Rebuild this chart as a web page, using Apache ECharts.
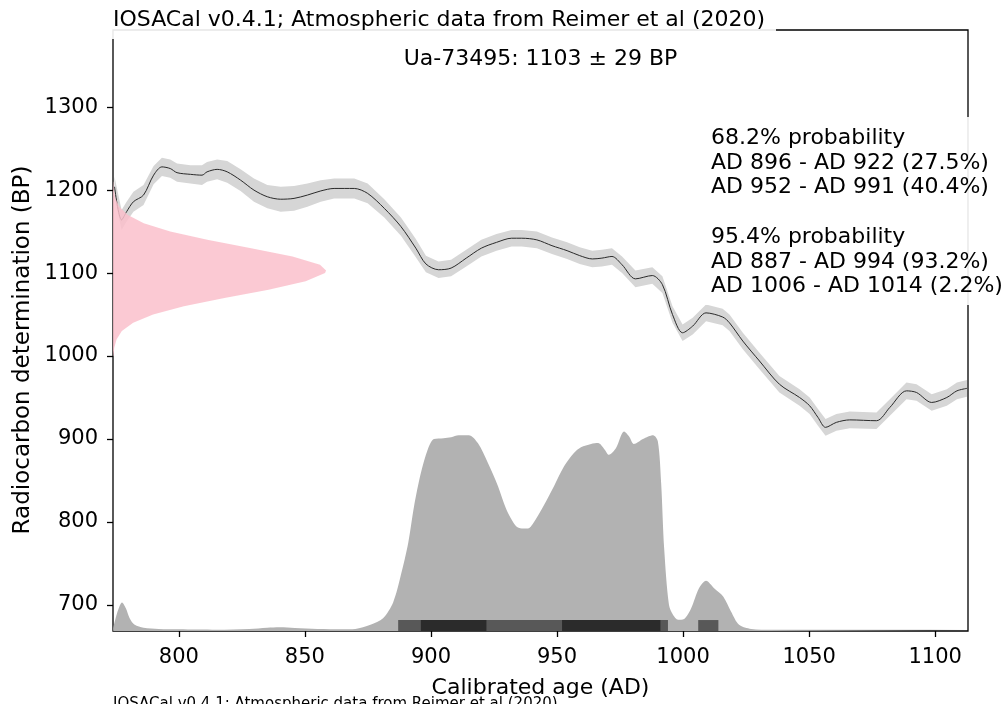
<!DOCTYPE html>
<html>
<head>
<meta charset="utf-8">
<script src="https://cdn.jsdelivr.net/npm/echarts@6/dist/echarts.min.js"></script>
<style>
  html, body { margin: 0; padding: 0; background: #fff; }
  #chart { width: 1003px; height: 704px; }
</style>
</head>
<body>
<div id="chart"></div>
<script>
// Calibration curve (IntCal20 atmospheric), calendar year AD -> radiocarbon age BP
const curveYears = [774.5, 777.3, 779.3, 782, 786, 790, 793.3, 796.6, 799.3, 804.6, 809.2, 811.2, 815.2, 819.2,
  824.5, 829.8, 835.1, 840.4, 845.7, 851, 856.3, 861.6, 869.6, 874.9, 881.5, 888.1, 894, 898, 903, 908, 914, 920,
  926, 932, 936, 942, 948, 954, 959, 964, 967.8, 971.8, 975.8, 981.1, 987.8, 991.8, 995.8, 999.8, 1003.8, 1009.1,
  1015.7, 1018.4, 1023.7, 1030.3, 1038.2, 1046.2, 1050.2, 1053.5, 1056.5, 1060.8, 1066.1, 1076.7, 1082, 1088.6,
  1092.6, 1098.6, 1104.6, 1108.6, 1112.6];
const curveBP = [1204, 1164, 1174, 1186, 1194, 1218, 1228, 1226, 1221, 1219, 1218, 1222, 1225, 1222,
  1212, 1200, 1192, 1189, 1190, 1194, 1199, 1202, 1202, 1196, 1178, 1156, 1130, 1111, 1104, 1106, 1118, 1130,
  1137, 1142, 1142, 1140, 1133, 1127, 1121, 1117, 1118, 1120, 1110, 1093, 1097, 1086, 1050, 1028, 1036, 1052,
  1047, 1040, 1018, 994, 966, 950, 940, 926, 914, 920, 923, 922, 938, 958,
  956, 944, 950, 958, 961];
// One-sigma half width of the curve (BP)
const curveSigma = [12, 12, 12, 12, 12, 11, 11, 11, 11, 11, 12, 12, 12, 13,
  13, 14, 14, 15, 15, 14, 13, 12, 12, 12, 11, 11, 11, 10, 10, 10, 10, 10,
  10, 10, 10, 10, 10, 10, 10, 10, 10, 10, 10, 10, 10, 10, 10, 10, 10, 10,
  10, 10, 10, 10, 10, 10, 10, 10, 10, 10, 10, 10, 10, 10,
  10, 10, 10, 10, 10];

// Measured radiocarbon age: Ua-73495, 1103 ± 29 BP (width of the normal curve, in years)
const dateBP = [1000, 1010, 1020, 1030, 1040, 1050, 1060, 1070, 1080, 1090, 1100, 1103, 1110, 1120,
  1130, 1140, 1150, 1160, 1170, 1180, 1190, 1200, 1210];
const dateWidth = [0.15, 0.5, 1.4, 3.5, 8.0, 15.9, 28.1, 44.2, 61.7, 76.4, 84.1, 84.5, 82.1, 71.2,
  54.8, 37.4, 22.7, 12.2, 5.9, 2.5, 0.94, 0.31, 0.1];

// Calibrated probability distribution (drawn in BP units above the axis floor)
const calYears = [774, 775.5, 777.5, 779, 780.5, 782.5, 786, 792, 800, 815, 828, 835, 840, 846, 855, 865, 870,
  876, 881, 885, 888, 891, 893.3, 896, 898.8, 901.2, 905, 908, 911, 915, 918.6, 922.6, 926.6, 929.8, 933.7, 936,
  938.5, 940.5, 944.8, 948.8, 952.8, 956.7, 959.5, 963.5, 966.3, 968.7, 970.6, 973.4, 976.6, 978.6, 980.5, 984.1,
  988.1, 990, 991.3, 992.5, 994.4, 996, 998, 1000.4, 1003.2, 1006.3, 1009.1, 1012.3, 1015.9, 1019, 1022.2, 1027,
  1035, 1113];
const calProb = [672, 690, 703, 696, 684, 676, 672.5, 671, 670.5, 670, 671, 672.5, 673, 672, 670.8, 670.5, 671,
  676, 684, 703, 735, 775, 819, 859, 888, 900, 901, 902, 904.5, 904.5, 895, 871, 843, 816, 795, 792,
  792, 798, 820, 843, 867, 883, 890, 894, 895, 888, 881, 889, 909, 903, 894, 900,
  904.5, 897, 847, 768, 700, 688, 682, 683, 696, 720, 729, 720, 710, 692, 676, 671,
  670, 670];

// Highest probability ranges
const ranges68 = [[896, 922], [952, 991]];
const ranges95 = [[887, 994], [1006, 1014]];
const ranges68Pct = [27.5, 40.4];
const ranges95Pct = [93.2, 2.2];

const xTicks = [800, 850, 900, 950, 1000, 1050, 1100];
const yTicks = [700, 800, 900, 1000, 1100, 1200, 1300];

const X_MIN = 773.9, X_MAX = 1113.0;
const Y_MIN = 668.5, Y_MAX = 1393;
const BAR_TOP = Y_MIN + 13.2;

const FONT = 'DejaVu Sans';

const chart = echarts.init(document.getElementById('chart'), null, { renderer: 'canvas' });

function polygonSeries(z, buildPoints, style) {
  return {
    type: 'custom',
    z: z,
    silent: true,
    data: [[X_MIN, Y_MIN]],
    renderItem: function (params, api) {
      const pts = buildPoints().map(p => api.coord(p));
      return { type: 'polygon', shape: { points: pts }, style: style };
    }
  };
}

function rangeBars(z, ranges, color) {
  return {
    type: 'custom',
    z: z,
    silent: true,
    data: ranges.map(r => [r[0], r[1]]),
    renderItem: function (params, api) {
      const p0 = api.coord([api.value(0), BAR_TOP]);
      const p1 = api.coord([api.value(1), Y_MIN]);
      return { type: 'rect', shape: { x: p0[0], y: p0[1], width: p1[0] - p0[0], height: p1[1] - p0[1] },
        style: { fill: color } };
    }
  };
}

const fmt = r => 'AD ' + r[0] + ' - AD ' + r[1];
const probText = ['68.2% probability',
  fmt(ranges68[0]) + ' (' + ranges68Pct[0] + '%)',
  fmt(ranges68[1]) + ' (' + ranges68Pct[1] + '%)',
  '',
  '95.4% probability',
  fmt(ranges95[0]) + ' (' + ranges95Pct[0] + '%)',
  fmt(ranges95[1]) + ' (' + ranges95Pct[1] + '%)'].join('\n');

const plain = v => String(v);

const option = {
  backgroundColor: '#fff',
  animation: false,
  grid: { left: 113, right: 35, top: 30, bottom: 69, show: true, borderColor: '#000', borderWidth: 1.3,
    backgroundColor: 'transparent' },
  xAxis: {
    type: 'value', min: X_MIN, max: X_MAX,
    axisLine: { show: false },
    splitLine: { show: false },
    axisTick: { show: true, customValues: xTicks, length: 6, inside: false, lineStyle: { color: '#000', width: 1.3 } },
    axisLabel: { customValues: xTicks, formatter: plain, fontFamily: FONT, fontSize: 21, color: '#000', margin: 16 },
    name: 'Calibrated age (AD)', nameLocation: 'middle', nameGap: 46,
    nameTextStyle: { fontFamily: FONT, fontSize: 22, color: '#000' }
  },
  yAxis: {
    type: 'value', min: Y_MIN, max: Y_MAX,
    axisLine: { show: false },
    splitLine: { show: false },
    axisTick: { show: true, customValues: yTicks, length: 6, inside: false, lineStyle: { color: '#000', width: 1.3 } },
    axisLabel: { customValues: yTicks, formatter: plain, fontFamily: FONT, fontSize: 21, color: '#000', margin: 15 }
  },
  series: [
    {
      type: 'line', z: 1, silent: true, symbol: 'none', smooth: 0.3,
      data: calYears.map((y, i) => [y, calProb[i]]),
      lineStyle: { width: 0 },
      areaStyle: { color: '#b2b2b2', opacity: 1, origin: 'start' }
    },
    polygonSeries(2, function () {
      const up = curveYears.map((y, i) => [y, curveBP[i] + curveSigma[i]]);
      const lo = curveYears.map((y, i) => [y, curveBP[i] - curveSigma[i]]).reverse();
      return up.concat(lo);
    }, { fill: '#d6d6d6' }),
    {
      type: 'line', z: 3, silent: true, symbol: 'none', smooth: 0.3,
      data: curveYears.map((y, i) => [y, curveBP[i]]),
      lineStyle: { color: '#2a2a2a', width: 1 }
    },
    polygonSeries(4, function () {
      const pts = dateBP.map((b, i) => [X_MIN + dateWidth[i], b]);
      return [[X_MIN, dateBP[0]]].concat(pts, [[X_MIN, dateBP[dateBP.length - 1]]]);
    }, { fill: 'rgba(250, 192, 203, 0.85)' }),
    rangeBars(5, ranges95, '#585858'),
    rangeBars(6, ranges68, '#2b2b2b')
  ],
  graphic: [
    { type: 'rect', z: 100, shape: { x: 108, y: 0, width: 668, height: 39 }, style: { fill: 'rgba(255,255,255,0.9)' } },
    { type: 'text', z: 101, x: 113, y: 20,
      style: { text: 'IOSACal v0.4.1; Atmospheric data from Reimer et al (2020)', font: '22px "DejaVu Sans"',
        fill: '#000', textVerticalAlign: 'middle' } },
    { type: 'text', z: 101, x: 540.5, y: 59,
      style: { text: 'Ua-73495: 1103 \u00b1 29 BP', font: '22px "DejaVu Sans"', fill: '#000',
        textAlign: 'center', textVerticalAlign: 'middle' } },
    { type: 'rect', z: 100, shape: { x: 700, y: 117, width: 303, height: 188 }, style: { fill: 'rgba(255,255,255,0.9)' } },
    { type: 'text', z: 101, x: 711, y: 126,
      style: { text: probText, font: '22px "DejaVu Sans"', fill: '#000', lineHeight: 24.7,
        textVerticalAlign: 'top' } },
    { type: 'text', z: 101, x: 23, y: 350, rotation: Math.PI / 2,
      style: { text: 'Radiocarbon determination (BP)', font: '23px "DejaVu Sans"', fill: '#000',
        textAlign: 'center', textVerticalAlign: 'middle' } },
    { type: 'text', z: 101, x: 113, y: 697,
      style: { text: 'IOSACal v0.4.1; Atmospheric data from Reimer et al (2020)', font: '15px "DejaVu Sans"',
        fill: '#000', textVerticalAlign: 'top' } }
  ]
};

chart.setOption(option);
</script>
</body>
</html>
